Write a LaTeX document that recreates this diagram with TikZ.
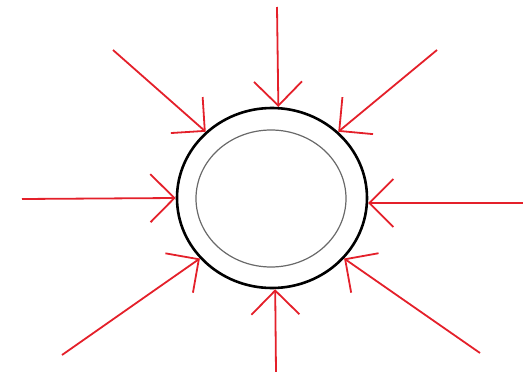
\documentclass[tikz,border=0pt]{standalone}
\usetikzlibrary{arrows.meta,shapes.geometric}
\definecolor{arrred}{RGB}{228,32,42}
\definecolor{innergray}{RGB}{105,105,105}
\tikzset{
  ringshape/.style={ellipse, draw=black, line width=2.6pt, minimum width=190pt, minimum height=180pt, inner sep=0pt},
  innershape/.style={ellipse, draw=innergray, line width=1.2pt, minimum width=150pt, minimum height=137pt, inner sep=0pt},
  pusharrow/.style={draw=arrred, line width=1.8pt, -{Straight Barb[length=24pt, width=48pt, line width=1.8pt]}}
}
\begin{document}
\begin{tikzpicture}[x=1pt, y=-1pt]
\useasboundingbox (0,0) rectangle (523,372);
\node[ringshape] (ring) at (272,198) {};
\node[innershape] (inner) at (271,198.5) {};
\coordinate (s1) at (277,7);
\coordinate (s2) at (113,50);
\coordinate (s3) at (437,50);
\coordinate (s4) at (22,199);
\coordinate (s5) at (523,203);
\coordinate (s6) at (62,355);
\coordinate (s7) at (276,372);
\coordinate (s8) at (480,353);
\draw[pusharrow] (s1) -- (ring.86.8);
\draw[pusharrow] (s2) -- (ring.135.9);
\draw[pusharrow] (s3) -- (ring.45.9);
\draw[pusharrow] (s4) -- (ring.180.6);
\draw[pusharrow] (s5) -- (ring.357.1);
\draw[pusharrow] (s6) -- (ring.220.9);
\draw[pusharrow] (s7) -- (ring.272.5);
\draw[pusharrow] (s8) -- (ring.320.4);
\end{tikzpicture}
\end{document}
